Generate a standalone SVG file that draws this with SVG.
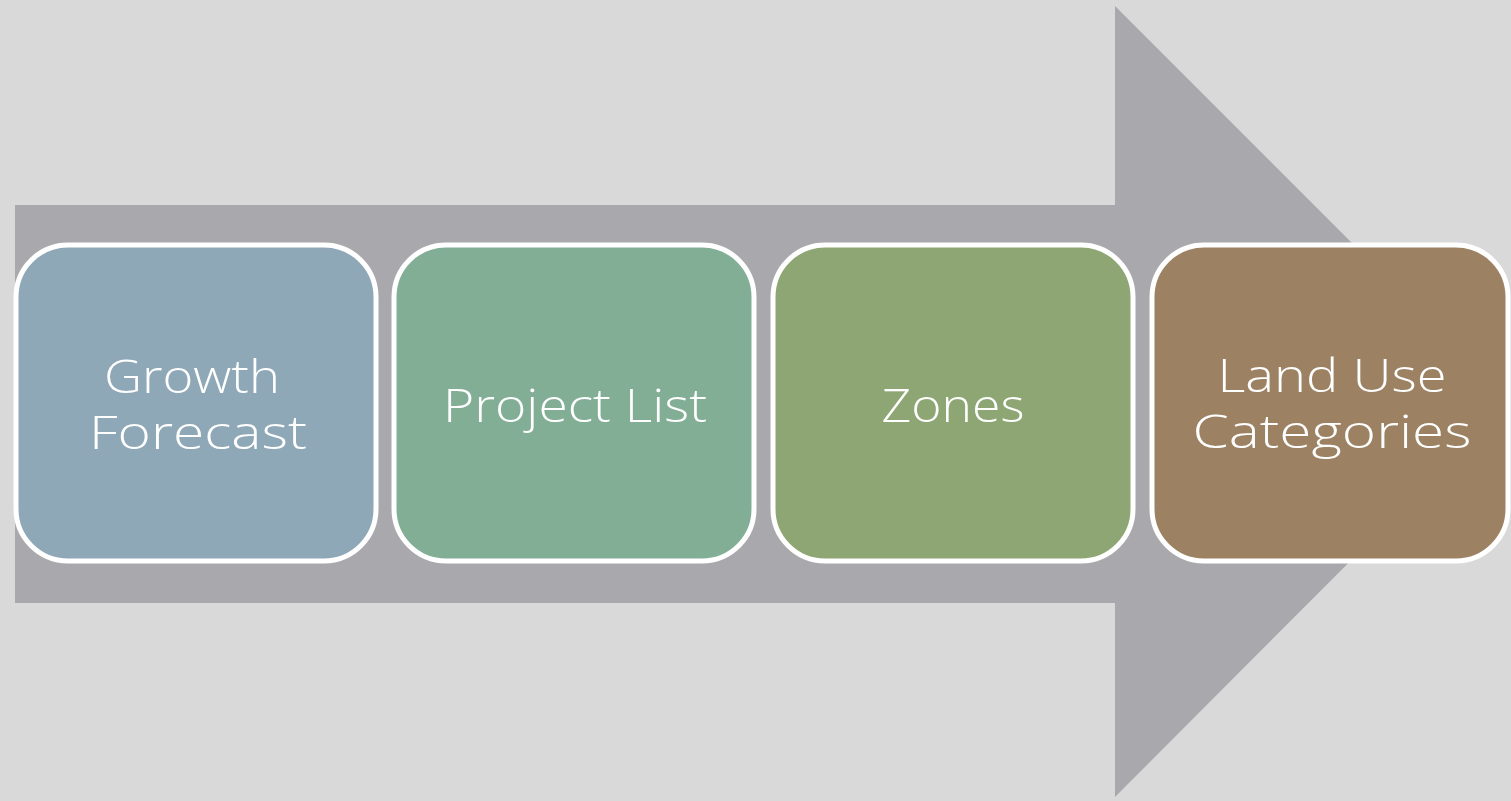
<svg xmlns="http://www.w3.org/2000/svg" width="1511" height="801" viewBox="0 0 1511 801">
<style>
.box{stroke:#ffffff;stroke-width:5}
.lbl{font-family:"Open Sans","DejaVu Sans","Liberation Sans",sans-serif;font-weight:300;font-size:46px;fill:#ffffff;text-anchor:middle}
</style>
<rect x="0" y="0" width="1511" height="801" fill="#d9d9d9"/>
<g id="connectors">
<polygon points="15,205 1115,205 1115,6 1510,401 1115,797 1115,603 15,603" fill="#a9a8ad"/>
</g>
<g id="node-growth">
<rect class="box" x="16" y="245" width="360" height="316" rx="52" fill="#8fa8b8"/>
<text class="lbl" x="192" y="393" textLength="176" lengthAdjust="spacingAndGlyphs">Growth</text>
<text class="lbl" x="198" y="449" textLength="218" lengthAdjust="spacingAndGlyphs">Forecast</text>
</g>
<g id="node-project">
<rect class="box" x="394" y="245" width="360" height="316" rx="52" fill="#82ae96"/>
<text class="lbl" x="575" y="422" textLength="264" lengthAdjust="spacingAndGlyphs">Project List</text>
</g>
<g id="node-zones">
<rect class="box" x="773" y="245" width="360" height="316" rx="52" fill="#8ea673"/>
<text class="lbl" x="953" y="422" textLength="143" lengthAdjust="spacingAndGlyphs">Zones</text>
</g>
<g id="node-landuse">
<rect class="box" x="1152" y="245" width="356" height="316" rx="52" fill="#9c8163"/>
<text class="lbl" x="1332" y="392" textLength="229" lengthAdjust="spacingAndGlyphs">Land Use</text>
<text class="lbl" x="1332" y="448" textLength="279" lengthAdjust="spacingAndGlyphs">Categories</text>
</g>
</svg>
